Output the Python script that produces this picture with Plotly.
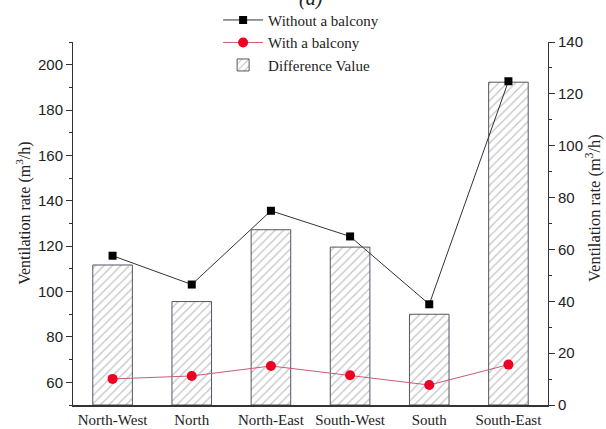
import plotly.graph_objects as go

categories = ["North-West", "North", "North-East", "South-West", "South", "South-East"]
without_balcony = [115.8, 103.1, 135.6, 124.3, 94.4, 192.7]
with_balcony = [61.5, 62.8, 67.2, 63.1, 58.8, 67.8]
difference_value = [54.0, 39.9, 67.6, 60.9, 35.0, 124.5]

left_ticks = [60, 80, 100, 120, 140, 160, 180, 200]
right_ticks = [0, 20, 40, 60, 80, 100, 120, 140]

serif = "Liberation Serif"
sans = "Liberation Sans"

fig = go.Figure()

fig.add_trace(go.Bar(
    x=categories, y=difference_value, name="Difference Value",
    yaxis="y", width=0.5,
    marker=dict(color="white", line=dict(color="#555566", width=1),
                pattern=dict(shape="/", fgcolor="#8a8a8a", bgcolor="white",
                             size=6, solidity=0.22)),
    legendrank=3,
))
fig.add_trace(go.Scatter(
    x=categories, y=without_balcony, name="Without a balcony",
    yaxis="y2", mode="lines+markers",
    line=dict(color="#333333", width=1),
    marker=dict(symbol="square", size=8, color="black"),
    legendrank=1,
))
fig.add_trace(go.Scatter(
    x=categories, y=with_balcony, name="With a balcony",
    yaxis="y2", mode="lines+markers",
    line=dict(color="#c85a78", width=1),
    marker=dict(symbol="circle", size=10, color="#ee0022"),
    legendrank=2,
))

ytitle = "Ventilation rate (m<sup>3</sup>/h)"

fig.update_layout(
    width=606, height=429,
    margin=dict(l=73, r=58, t=42, b=24, autoexpand=False),
    paper_bgcolor="white", plot_bgcolor="white",
    showlegend=True,
    legend=dict(x=0.3055, y=1.1055, xanchor="left", yanchor="top",
                bgcolor="rgba(0,0,0,0)", font=dict(family=serif, size=15, color="#222"),
                tracegroupgap=0, itemwidth=40),
    xaxis=dict(range=[-0.5, 5.5], showline=True, linecolor="#333", linewidth=1.5,
               ticks="", tickfont=dict(family=serif, size=15, color="#222"),
               showgrid=False, zeroline=False),
    yaxis=dict(side="right", range=[0, 140], tickvals=right_ticks,
               showline=True, linecolor="#333", linewidth=1, ticks="outside",
               ticklen=6, tickcolor="#333",
               minor=dict(dtick=10, ticks="outside", ticklen=3, tickcolor="#333"),
               tickfont=dict(family=sans, size=15, color="#222"),
               showgrid=False, zeroline=False),
    yaxis2=dict(side="left", overlaying="y", range=[50, 210], tickvals=left_ticks,
                showline=True, linecolor="#333", linewidth=1, ticks="outside",
                ticklen=6, tickcolor="#333",
                minor=dict(dtick=10, ticks="outside", ticklen=3, tickcolor="#333"),
                tickfont=dict(family=sans, size=15, color="#222"),
                showgrid=False, zeroline=False),
    annotations=[
        dict(text="<i>(a)</i>", x=0.5, y=1.0, yshift=30, xref="paper", yref="paper",
             xanchor="center", yanchor="bottom", showarrow=False,
             font=dict(family=serif, size=20, color="#222")),
        dict(text=ytitle, x=-0.103, y=0.527, xref="paper", yref="paper",
             xanchor="center", yanchor="middle", textangle=-90, showarrow=False,
             font=dict(family=serif, size=16, color="#222")),
        dict(text=ytitle, x=1.097, y=0.543, xref="paper", yref="paper",
             xanchor="center", yanchor="middle", textangle=-90, showarrow=False,
             font=dict(family=serif, size=16.5, color="#222")),
    ],
)

fig.write_html("out.html", config={"displayModeBar": False},
               post_script="document.body.style.margin='0px';")
